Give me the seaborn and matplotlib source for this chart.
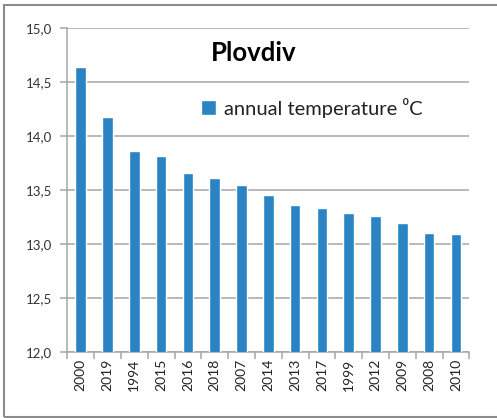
import matplotlib
matplotlib.use("Agg")
import matplotlib.pyplot as plt
from matplotlib.patches import Rectangle
import seaborn as sns
import pandas as pd
import numpy as np

years = ["2000", "2019", "1994", "2015", "2016", "2018", "2007", "2014",
         "2013", "2017", "1999", "2012", "2009", "2008", "2010"]
temps = [14.64, 14.18, 13.86, 13.82, 13.66, 13.61, 13.55, 13.45,
         13.36, 13.33, 13.29, 13.26, 13.19, 13.10, 13.09]
y_ticks = [12.0, 12.5, 13.0, 13.5, 14.0, 14.5, 15.0]
y_tick_labels = ["12,0", "12,5", "13,0", "13,5", "14,0", "14,5", "15,0"]
series_label = "annual temperature \u2070C"
title = "Plovdiv"

sns.set_theme(style="white")
plt.rcParams["font.family"] = ["Lato", "DejaVu Sans"]

df = pd.DataFrame({"year": years, "temp": temps})

fig = plt.figure(figsize=(4.97, 4.18), dpi=100)
ax = fig.add_axes([0.1354, 0.1586, 0.8089, 0.7737])

bar_color = "#2a84c4"
sns.barplot(data=df, x="year", y="temp", order=years, color=bar_color,
            width=0.4, saturation=1, label=series_label, ax=ax, zorder=3)

ax.set_ylim(12.0, 15.0)
ax.set_xlim(-0.5, len(years) - 0.5)
ax.set_yticks(y_ticks)
ax.set_yticklabels(y_tick_labels, fontsize=9.5, color="#333333")
ax.set_xlabel("")
ax.set_ylabel("")

grid_color = "#a6a6a6"
ax.yaxis.grid(True, color=grid_color, linewidth=1.1, zorder=0)
ax.set_axisbelow(True)

for s in ["top", "right"]:
    ax.spines[s].set_visible(False)
for s in ["left", "bottom"]:
    ax.spines[s].set_color(grid_color)
    ax.spines[s].set_linewidth(1.1)

# x labels rotated, tick marks between categories
ax.set_xticks(range(len(years)))
ax.set_xticklabels(years, rotation=90, fontsize=10, color="#222222")
ax.tick_params(axis="x", which="major", length=0, pad=5)
ax.set_xticks(np.arange(-0.5, len(years), 1.0), minor=True)
ax.tick_params(axis="x", which="minor", length=5, width=1.1, color=grid_color,
               direction="out", bottom=True)
ax.tick_params(axis="y", which="major", length=5, width=1.1, color=grid_color,
               direction="out", left=True, pad=6)

fig.text(0.51, 0.874, title, fontsize=18.5, fontweight="bold",
         ha="center", va="center", color="black")

leg = ax.legend(loc="center left", bbox_to_anchor=(0.384, 0.742),
                bbox_transform=fig.transFigure, frameon=False,
                fontsize=14.5, handlelength=0.75, handleheight=0.75,
                handletextpad=0.4, borderpad=0)
for t in leg.get_texts():
    t.set_color("#222222")

frame = Rectangle((0.009, 0.0015), 1.2, 0.9855, transform=fig.transFigure,
                  fill=False, edgecolor="#8c8c8c", linewidth=1.5,
                  clip_on=False)
fig.patches.append(frame)

fig.savefig("out.png", dpi=100)
